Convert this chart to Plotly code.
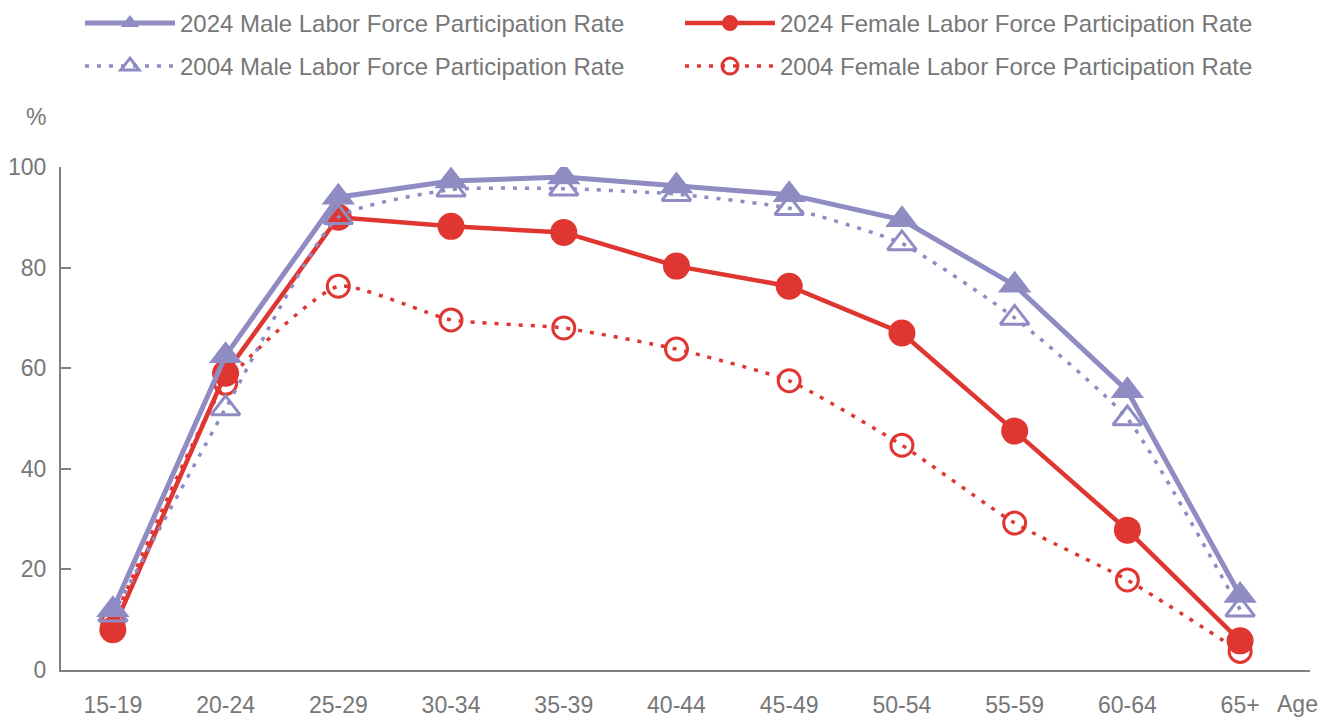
import plotly.graph_objects as go

ages = ["15-19", "20-24", "25-29", "30-34", "35-39", "40-44", "45-49", "50-54", "55-59", "60-64", "65+"]
male_2024 = [12.0, 62.5, 94.0, 97.2, 98.0, 96.2, 94.5, 89.5, 76.5, 55.5, 14.8]
male_2004 = [11.0, 52.0, 90.0, 95.5, 95.7, 94.6, 91.8, 84.8, 70.0, 50.0, 12.0]
female_2024 = [8.0, 59.0, 90.0, 88.2, 87.0, 80.3, 76.3, 67.0, 47.5, 27.8, 5.8]
female_2004 = [9.5, 57.0, 76.3, 69.6, 68.0, 63.8, 57.5, 44.7, 29.2, 17.9, 3.7]

PURPLE = "#8f8bc3"
RED = "#e03631"
GRAY = "#777777"
FONT = "Liberation Sans, Arial, sans-serif"

fig = go.Figure()

fig.add_trace(go.Scatter(
    x=ages, y=female_2004, name="2004 Female Labor Force Participation Rate",
    mode="lines+markers", line=dict(color=RED, width=3.5, dash="4px,8px", shape="spline", smoothing=0.5),
    marker=dict(symbol="circle-open", size=22, color=RED, line=dict(width=3, color=RED)),
    legend="legend2", legendrank=2,
))
fig.add_trace(go.Scatter(
    x=ages, y=female_2024, name="2024 Female Labor Force Participation Rate",
    mode="lines+markers", line=dict(color=RED, width=4.5),
    marker=dict(symbol="circle", size=27, color=RED),
    legend="legend", legendrank=2,
))
fig.add_trace(go.Scatter(
    x=ages, y=male_2004, name="2004 Male Labor Force Participation Rate",
    mode="lines+markers", line=dict(color=PURPLE, width=3.5, dash="4px,8px", shape="spline", smoothing=0.5),
    marker=dict(symbol="triangle-up-open", size=25, color=PURPLE, line=dict(width=3, color=PURPLE)),
    legend="legend2", legendrank=1,
))
fig.add_trace(go.Scatter(
    x=ages, y=male_2024, name="2024 Male Labor Force Participation Rate",
    mode="lines+markers", line=dict(color=PURPLE, width=5),
    marker=dict(symbol="triangle-up", size=29, color=PURPLE),
    legend="legend", legendrank=1,
))

legend_common = dict(
    orientation="h", xref="paper", yref="paper",
    xanchor="left", yanchor="top",
    entrywidth=495, entrywidthmode="pixels",
    font=dict(size=24, color=GRAY), itemwidth=90,
    traceorder="normal", bgcolor="rgba(0,0,0,0)",
)

fig.update_layout(
    width=1335, height=717,
    margin=dict(l=53, r=33, t=159, b=55, autoexpand=False),
    plot_bgcolor="white", paper_bgcolor="white",
    font=dict(family=FONT, size=24, color=GRAY),
    legend=dict(legend_common, x=0.0152, y=1.330),
    legend2=dict(legend_common, x=0.0152, y=1.2445),
    xaxis=dict(
        type="category", range=[-0.46, 10.62], automargin=False,
        showline=True, linecolor="#808080", linewidth=2,
        ticks="", showgrid=False, zeroline=False,
        tickfont=dict(size=23, color=GRAY), ticklabelstandoff=13,
    ),
    yaxis=dict(
        range=[0, 100], tickvals=[0, 20, 40, 60, 80, 100], automargin=False,
        showline=True, linecolor="#808080", linewidth=2,
        ticks="inside", ticklen=10, tickcolor="#808080", tickwidth=2,
        showgrid=False, zeroline=False,
        tickfont=dict(size=23, color=GRAY), ticklabelstandoff=8,
    ),
    annotations=[
        dict(text="%", xref="paper", yref="paper", x=-0.02, y=1.1,
             xanchor="center", yanchor="middle", showarrow=False,
             font=dict(size=23, color=GRAY)),
        dict(text="Age", xref="paper", yref="paper", x=0.99, y=-0.068,
             xanchor="center", yanchor="middle", showarrow=False,
             font=dict(size=23, color=GRAY)),
    ],
)

fig.write_html("out.html")
